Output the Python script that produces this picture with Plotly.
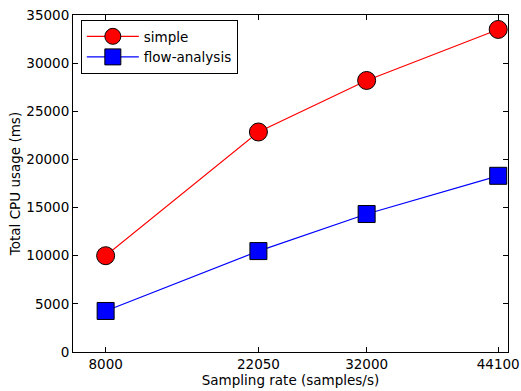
import plotly.graph_objects as go

# Sampling rates (samples/s) and total CPU usage (ms) per pipeline
sampling_rates = [8000, 22050, 32000, 44100]
simple_ms = [10000, 22850, 28200, 33500]
flow_analysis_ms = [4260, 10480, 14330, 18300]

x_tick_labels = ["8000", "22050", "32000", "44100"]
y_tick_values = [0, 5000, 10000, 15000, 20000, 25000, 30000, 35000]

FONT = "DejaVu Sans"
FS = 13.5

fig = go.Figure()
fig.add_trace(go.Scatter(
    x=sampling_rates, y=simple_ms, name="simple", mode="lines+markers",
    line=dict(color="#ff0000", width=1.2),
    marker=dict(symbol="circle", size=18, color="#ff0000",
                line=dict(color="black", width=1)),
))
fig.add_trace(go.Scatter(
    x=sampling_rates, y=flow_analysis_ms, name="flow-analysis", mode="lines+markers",
    line=dict(color="#0000ff", width=1.2),
    marker=dict(symbol="square", size=17, color="#0000ff",
                line=dict(color="black", width=1)),
))

axis_common = dict(
    showline=True, linecolor="black", linewidth=1, mirror="ticks",
    ticks="inside", ticklen=5, tickcolor="black", tickwidth=1,
    showgrid=False, zeroline=False, automargin=False,
    tickfont=dict(family=FONT, size=FS, color="black"),
)

fig.update_layout(
    width=521, height=391,
    margin=dict(l=73, r=13, t=15, b=39),
    paper_bgcolor="white", plot_bgcolor="white",
    font=dict(family=FONT, size=FS, color="black"),
    showlegend=True,
    legend=dict(
        x=0.018, y=0.985, xanchor="left", yanchor="top",
        bordercolor="black", borderwidth=1, bgcolor="white",
        font=dict(family=FONT, size=FS, color="black"),
        itemwidth=52, tracegroupgap=0, itemsizing="trace",
    ),
    xaxis=dict(
        range=[5000, 45000], tickvals=sampling_rates, ticktext=x_tick_labels,
        title=dict(text="Sampling rate (samples/s)", standoff=0,
                   font=dict(family=FONT, size=FS)),
        **axis_common,
    ),
    yaxis=dict(
        range=[0, 35000], tickvals=y_tick_values,
        tickformat="d",
        title=dict(text="Total CPU usage (ms)", standoff=2,
                   font=dict(family=FONT, size=FS)),
        **axis_common,
    ),
)

fig.write_html("out.html")
